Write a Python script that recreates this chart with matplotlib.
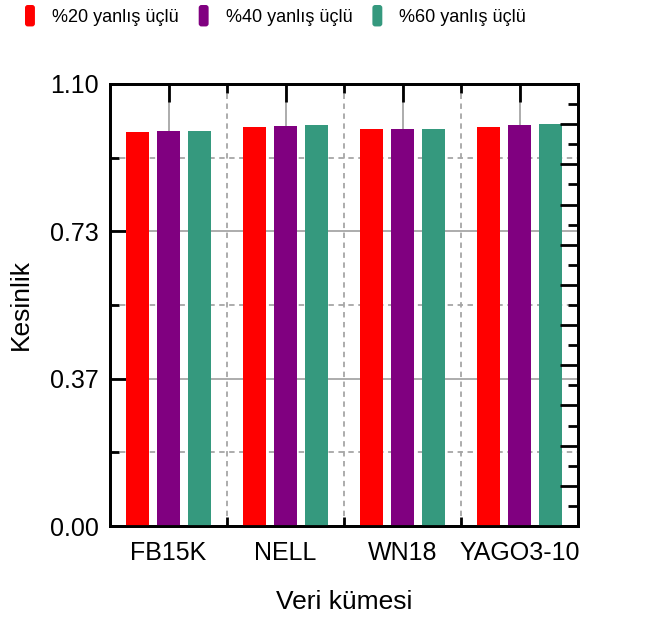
import numpy as np
import matplotlib
matplotlib.use("Agg")
import matplotlib.pyplot as plt
from matplotlib.patches import FancyBboxPatch
from matplotlib.legend_handler import HandlerPatch
from matplotlib.ticker import FixedLocator, MultipleLocator, FormatStrFormatter, NullFormatter

datasets = ["FB15K", "NELL", "WN18", "YAGO3-10"]
series_names = ["%20 yanlış üçlü", "%40 yanlış üçlü", "%60 yanlış üçlü"]
noise20 = [0.980, 0.992, 0.987, 0.993]
noise40 = [0.983, 0.995, 0.987, 0.998]
noise60 = [0.983, 0.997, 0.988, 1.000]
colors = ["#ff0000", "#800080", "#35997e"]

plt.rcParams["font.family"] = ["Liberation Sans", "DejaVu Sans"]

fig = plt.figure(figsize=(6.52, 6.19), dpi=100)
ax = fig.add_axes([110 / 652, 1 - 526 / 619, 468 / 652, 442 / 619])

x = np.arange(len(datasets))
offset = 0.265
width = 0.19
bars = []
for i, (vals, c) in enumerate(zip([noise20, noise40, noise60], colors)):
    b = ax.bar(x + (i - 1) * offset, vals, width, color=c, zorder=3, label=series_names[i])
    bars.append(b)

ymax = 1.1
ax.set_xlim(-0.5, len(datasets) - 0.5)
ax.set_ylim(0, ymax)

# left axis: labelled ticks at thirds, minor halfway
ax.yaxis.set_major_locator(FixedLocator(np.linspace(0, ymax, 4)))
ax.yaxis.set_minor_locator(FixedLocator(np.linspace(0, ymax, 7)[1::2]))
ax.yaxis.set_major_formatter(FormatStrFormatter("%.2f"))
ax.xaxis.set_major_locator(FixedLocator(x))
ax.xaxis.set_minor_locator(FixedLocator(x[:-1] + 0.5))
ax.set_xticklabels(datasets)

gc = "#a6a6a6"
ax.grid(which="major", color=gc, linewidth=1.3, linestyle="-", zorder=1)
ax.grid(which="minor", color=gc, linewidth=1.3, linestyle=(0, (3, 2.5)), zorder=1)
ax.set_axisbelow(True)

ax.tick_params(which="both", direction="in", top=True, right=False, width=2, color="black",
               labelsize=18, pad=8)
ax.tick_params(which="major", length=13)
ax.tick_params(which="minor", length=6.5)
ax.tick_params(axis="x", which="major", pad=11)

# right axis: unlabelled ticks every 0.1 / 0.05
ax2 = ax.twinx()
ax2.set_ylim(0, ymax)
ax2.yaxis.set_major_locator(MultipleLocator(0.1))
ax2.yaxis.set_minor_locator(MultipleLocator(0.05))
ax2.yaxis.set_major_formatter(NullFormatter())
ax2.tick_params(which="both", direction="in", width=2, color="black")
ax2.tick_params(which="major", length=13)
ax2.tick_params(which="minor", length=7)

for a in (ax, ax2):
    for s in a.spines.values():
        s.set_linewidth(2)
        s.set_color("black")

ax.set_ylabel("Kesinlik", fontsize=19, labelpad=12)
ax.set_xlabel("Veri kümesi", fontsize=19, labelpad=18)


class RoundHandler(HandlerPatch):
    def create_artists(self, legend, orig_handle, xdescent, ydescent, width, height, fontsize, trans):
        p = FancyBboxPatch((-xdescent, -ydescent), width, height,
                           boxstyle="round,pad=0,rounding_size=2",
                           facecolor=orig_handle.patches[0].get_facecolor(),
                           edgecolor="none", transform=trans)
        return [p]


fig.legend(handles=bars, labels=series_names, loc="upper left",
           bbox_to_anchor=(25 / 652, 1 - 5 / 619), borderpad=0, borderaxespad=0,
           ncol=3, frameon=False, prop={"family": "Liberation Sans", "size": 13},
           handlelength=0.55, handleheight=1.45, handletextpad=0.95, columnspacing=1.1,
           handler_map={type(bars[0]): RoundHandler()})

fig.savefig("out.png", dpi=100)
